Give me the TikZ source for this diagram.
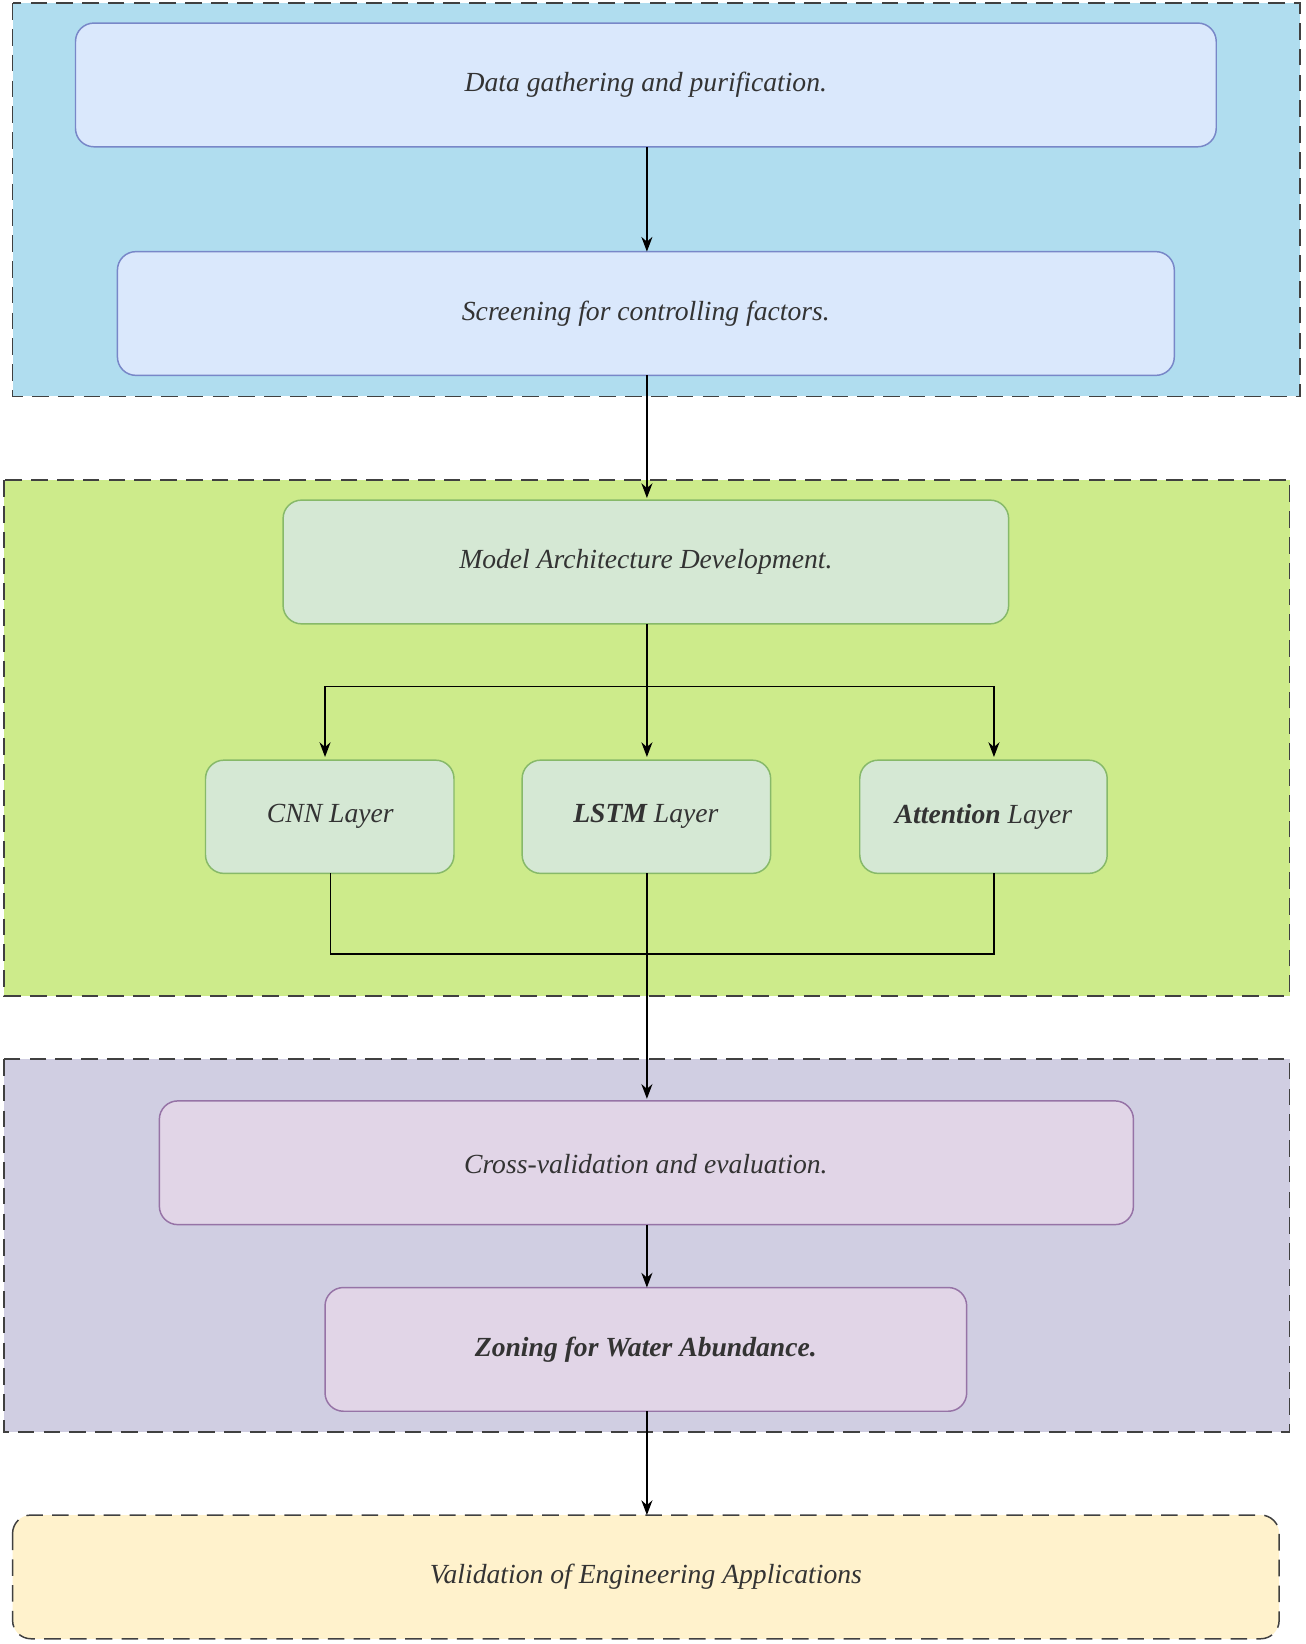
\documentclass[tikz,border=0pt]{standalone}
\usepackage{fontspec}
\setmainfont{Liberation Serif}
\usetikzlibrary{arrows.meta}
\definecolor{pblue}{RGB}{176,221,239}
\definecolor{bblue}{RGB}{218,232,252}
\definecolor{dblue}{RGB}{120,135,200}
\definecolor{pgreen}{RGB}{205,235,139}
\definecolor{bgreen}{RGB}{213,232,212}
\definecolor{dgreen}{RGB}{135,185,105}
\definecolor{ppurp}{RGB}{208,206,226}
\definecolor{bpurp}{RGB}{225,213,231}
\definecolor{dpurp}{RGB}{150,115,166}
\definecolor{pyel}{RGB}{255,242,204}
\begin{document}
\begin{tikzpicture}[x=0.02cm,y=-0.02cm,
 panel/.style={draw=black!75,dashed,dash pattern=on 9pt off 5pt,line width=0.8pt},
 box/.style={rounded corners=10pt,line width=0.8pt},
 txt/.style={font=\fontsize{15}{18}\selectfont\itshape,text=black!80},
 arr/.style={-{Stealth[length=8pt,width=6pt]},line width=0.8pt}]
\useasboundingbox (0,0) rectangle (1245,1568);
\fill[pblue] (12,3) rectangle (1240,378); \draw[panel] (12,3) rectangle (1240,378);
\fill[pgreen] (4,458) rectangle (1230,950); \draw[panel] (4,458) rectangle (1230,950);
\fill[ppurp] (4,1010) rectangle (1230,1366); \draw[panel] (4,1010) rectangle (1230,1366);
\draw[panel,fill=pyel,rounded corners=10pt] (12,1445) rectangle (1220,1563);
\node[txt] (v) at (616,1504) {Validation of Engineering Applications};
\draw[box,fill=bblue,draw=dblue] (72,22) rectangle (1160,140);
\node[txt] (a) at (616,81) {Data gathering and purification.};
\draw[box,fill=bblue,draw=dblue] (112,240) rectangle (1120,358);
\node[txt] (b) at (616,299) {Screening for controlling factors.};
\draw[box,fill=bgreen,draw=dgreen] (270,477) rectangle (962,595);
\node[txt] (c) at (616,536) {Model Architecture Development.};
\draw[box,fill=bgreen,draw=dgreen] (196,725) rectangle (433,833);
\draw[box,fill=bgreen,draw=dgreen] (498,725) rectangle (735,833);
\draw[box,fill=bgreen,draw=dgreen] (820,725) rectangle (1056,833);
\node[txt] (cnn) at (315,779) {CNN Layer};
\node[txt] (lstm) at (616,779) {\textbf{LSTM} Layer};
\node[txt] (att) at (938,779) {\textbf{Attention} Layer};
\draw[box,fill=bpurp,draw=dpurp] (152,1050) rectangle (1081,1168);
\node[txt] (d) at (616,1110) {Cross-validation and evaluation.};
\draw[box,fill=bpurp,draw=dpurp] (310,1228) rectangle (922,1346);
\node[txt] (e) at (616,1287) {\bfseries Zoning for Water Abundance.};
\coordinate (p1) at (617,140); \coordinate (p2) at (617,240);
\coordinate (p3) at (617,358); \coordinate (p4) at (617,475);
\coordinate (p5) at (617,595); \coordinate (j) at (617,655);
\coordinate (cl) at (310,722); \coordinate (cm) at (617,722); \coordinate (cr) at (948,722);
\coordinate (q1) at (315,833); \coordinate (q2) at (948,833); \coordinate (q3) at (617,833);
\coordinate (p6) at (617,1048); \coordinate (p7) at (617,1168); \coordinate (p8) at (617,1228);
\coordinate (p9) at (617,1346); \coordinate (p10) at (617,1445);
\draw[arr] (p1)--(p2); \draw[arr] (p3)--(p4);
\draw[arr] (p5)--(cm);
\draw[arr] (j) -| (cl); \draw[arr] (j) -| (cr);
\draw[line width=0.8pt] (q1) |- (948,910) -- (q2);
\draw[arr] (q3)--(p6); \draw[arr] (p7)--(p8); \draw[arr] (p9)--(p10);
\end{tikzpicture}
\end{document}
